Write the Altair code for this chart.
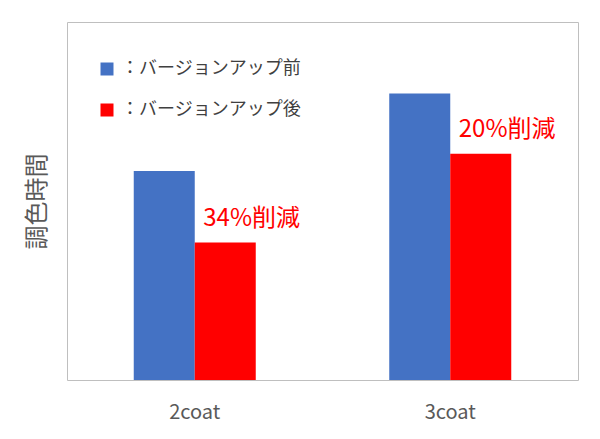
import altair as alt
import pandas as pd

categories = ["2coat", "3coat"]
series = ["バージョンアップ前", "バージョンアップ後"]
before_values = [73, 100]
after_values = [48, 79]
reduction_labels = ["34%削減", "20%削減"]

rows = []
for c, b, a in zip(categories, before_values, after_values):
    rows.append({"category": c, "series": series[0], "value": b})
    rows.append({"category": c, "series": series[1], "value": a})
df = pd.DataFrame(rows)
ann = pd.DataFrame({
    "category": categories,
    "series": [series[1]] * len(categories),
    "value": after_values,
    "label": reduction_labels,
})

FONT = "Noto Sans CJK JP"

x = alt.X(
    "category:N", sort=categories,
    scale=alt.Scale(paddingInner=0.5225, paddingOuter=0.26125),
    axis=alt.Axis(title=None, labelAngle=0, labelFontSize=20, labelColor="#595959",
                  labelFont=FONT, ticks=False, domain=False, labelPadding=22),
)
xo = alt.XOffset("series:N", sort=series,
                 scale=alt.Scale(domain=series, paddingInner=0, paddingOuter=0))
y = alt.Y(
    "value:Q",
    scale=alt.Scale(domain=[0, 125], nice=False, zero=True),
    axis=alt.Axis(title="調色時間", labels=False, ticks=False, domain=False, grid=False,
                  titleFontSize=24, titleColor="#595959", titleFont=FONT,
                  titleFontWeight="normal", titlePadding=18),
)
color = alt.Color(
    "series:N", sort=series,
    scale=alt.Scale(domain=series, range=["#4472C4", "#FF0000"]),
    legend=alt.Legend(title=None, orient="none", legendX=31, legendY=38,
                      symbolType="square", symbolSize=169, symbolStrokeWidth=0,
                      labelFontSize=18, labelFont=FONT, labelColor="#404040",
                      labelOffset=5, rowPadding=23, padding=0, labelLimit=0,
                      labelExpr="'：' + datum.label"),
)

bars = alt.Chart(df).mark_bar().encode(x=x, xOffset=xo, y=y, color=color)

texts = alt.Chart(ann).mark_text(
    align="left", baseline="middle", dx=-22, dy=-24,
    fontSize=24, font=FONT, color="#FF0000",
).encode(x=x, xOffset=xo, y=y, text="label:N")

chart = alt.layer(bars, texts).properties(
    width=511, height=358,
    autosize=alt.AutoSizeParams(type="none"),
    padding={"left": 59, "top": 14, "right": 10, "bottom": 50},
).configure_view(stroke="#BFBFBF", strokeWidth=1)

chart.save("out.html", embed_options={"renderer": "svg", "actions": False})
